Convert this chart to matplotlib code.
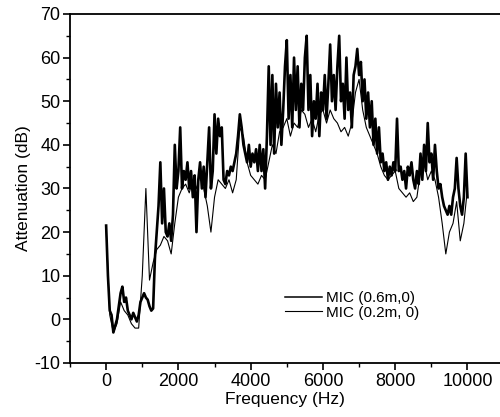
import numpy as np
import matplotlib
matplotlib.use("Agg")
import matplotlib.pyplot as plt
from matplotlib.ticker import MultipleLocator

plt.rcParams['font.family'] = ['Liberation Sans', 'DejaVu Sans']
plt.rcParams['axes.unicode_minus'] = False

# MIC (0.6m,0): 50 Hz step, 0..10000 Hz
freq_a = np.arange(0, 10001, 50)
att_a = [
    21.5, 10, 2, 1, -3, -1.5, 0, 3, 6, 7.5,
    4, 5, 2, 1, 0, 1.5, 0.5, -0.5, 1, 4,
    5, 6, 5, 4.5, 3, 2, 2.5, 14, 20, 26,
    36, 22, 30, 20, 19, 22, 18, 24, 40, 30,
    34, 44, 30, 34, 32, 36, 30, 34, 28, 33,
    20, 32, 36, 30, 35, 28, 36, 44, 30, 34,
    47, 38, 46, 42, 44, 32, 31, 34, 33, 35,
    34, 36, 38, 42, 47, 44, 40, 38, 36, 40,
    35, 38, 36, 39, 34, 40, 34, 39, 30, 42,
    58, 40, 56, 38, 54, 44, 52, 40, 48, 58,
    64, 46, 56, 44, 60, 48, 58, 44, 54, 48,
    60, 65, 48, 56, 42, 50, 46, 54, 42, 52,
    48, 56, 46, 54, 63, 50, 56, 48, 58, 65,
    50, 54, 46, 60, 48, 52, 44, 56, 58, 62,
    56, 59, 50, 55, 46, 52, 44, 50, 40, 46,
    38, 44, 36, 38, 34, 36, 32, 35, 33, 36,
    34, 46, 34, 35, 32, 34, 30, 35, 33, 36,
    32, 30, 34, 31, 38, 32, 40, 34, 45, 36,
    38, 32, 40, 34, 30, 31, 28, 26, 25, 24,
    26, 24, 28, 30, 37, 30, 26, 24, 28, 38,
    28,
]

# MIC (0.2m, 0): 100 Hz step, 0..10000 Hz
freq_b = np.arange(0, 10001, 100)
att_b = [
    21, 1, -3, -1, 4, 2, 1, -1, -2, -2,
    10, 30, 9, 13, 16, 17, 19, 18, 15, 22,
    28, 30, 31, 29, 32, 30, 33, 30, 26, 20,
    28, 32, 31, 30, 32, 29, 32, 44, 42, 36,
    33, 32, 31, 33, 32, 36, 40, 38, 43, 44,
    46, 42, 45, 44, 48, 47, 44, 46, 43, 47,
    48, 45, 48, 46, 45, 43, 44, 42, 45, 52,
    55, 48, 44, 42, 40, 38, 35, 33, 32, 33,
    34, 30, 29, 28, 29, 27, 28, 34, 36, 32,
    34, 32, 28, 22, 15, 20, 22, 27, 18, 22,
    30,
]

x_ticks = [0, 2000, 4000, 6000, 8000, 10000]
y_ticks = [-10, 0, 10, 20, 30, 40, 50, 60, 70]

fig = plt.figure(figsize=(5.0, 4.17), dpi=100)
ax = fig.add_axes([0.14, 0.1295, 0.86, 0.837])

ax.plot(freq_a, att_a, color='black', lw=1.9, label='MIC (0.6m,0)')
ax.plot(freq_b, att_b, color='black', lw=0.8, label='MIC (0.2m, 0)')

ax.set_xlim(-1000, 10900)
ax.set_ylim(-10, 70)
ax.set_xticks(x_ticks)
ax.set_yticks(y_ticks)
ax.xaxis.set_minor_locator(MultipleLocator(1000))
ax.yaxis.set_minor_locator(MultipleLocator(5))
ax.tick_params(which='major', direction='out', length=5, width=1.2, labelsize=13, pad=2)
ax.tick_params(which='minor', direction='out', length=3, width=1.0)
ax.spines['right'].set_visible(False)
for s in ['left', 'bottom', 'top']:
    ax.spines[s].set_linewidth(1.3)

ax.set_xlabel('Frequency (Hz)', fontsize=12.5, labelpad=2)
ax.set_ylabel('Attenuation (dB)', fontsize=12.5, labelpad=2)

leg = ax.legend(loc='center left', bbox_to_anchor=(0.475, 0.165), frameon=False,
                fontsize=11, handlelength=2.4, handletextpad=0.3, labelspacing=0.05,
                borderpad=0.2)
leg.get_lines()[0].set_linewidth(1.1)

fig.savefig('out.png', dpi=100)
